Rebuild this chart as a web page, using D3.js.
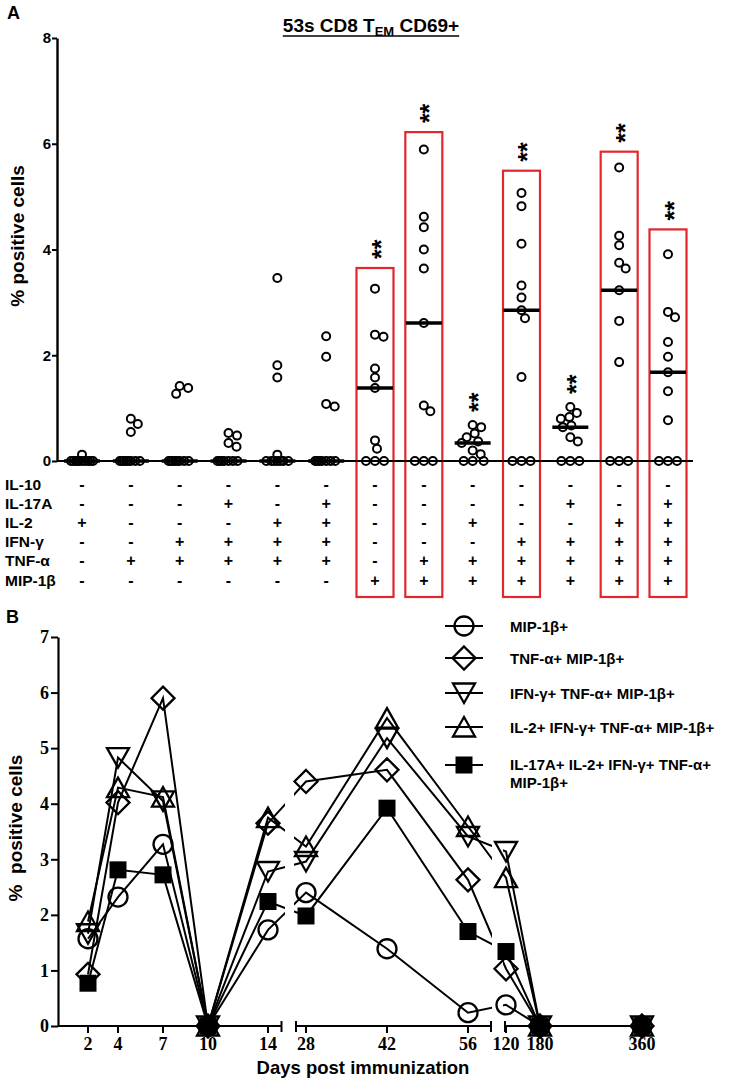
<!DOCTYPE html>
<html><head><meta charset="utf-8">
<script src="https://cdn.jsdelivr.net/npm/d3@7"></script>
<style>
body{margin:0;background:#fff}
svg{display:block}
text{font-family:"Liberation Sans",Arial,sans-serif;font-weight:bold;fill:#000}
</style>
</head><body>
<svg id="c" width="730" height="1082"></svg>
<script>
// ---------- Panel A data ----------
const groups = ["G1","G2","G3","G4","G5","G6","G7","G8","G9","G10","G11","G12","G13"];
const g1 = [0.12,0,0,0,0,0,0,0,0,0,0];
const g2 = [0.8,0.7,0.55,0,0,0,0,0,0,0,0];
const g3 = [1.42,1.38,1.27,0,0,0,0,0,0,0,0];
const g4 = [0.53,0.48,0.34,0.27,0,0,0,0,0,0,0];
const g5 = [3.46,1.81,1.58,0.12,0,0,0,0,0,0,0];
const g6 = [2.36,1.97,1.08,1.03,0,0,0,0,0,0,0];
const g7 = [3.26,2.39,2.35,1.75,1.58,1.38,0.39,0.23,0,0,0];
const g8 = [5.89,4.62,4.42,4.0,3.64,2.61,1.05,0.94,0,0,0];
const g9 = [0.68,0.64,0.52,0.45,0.37,0.34,0.2,0.13,0,0,0];
const g10 = [5.07,4.82,4.11,3.32,3.09,2.85,2.7,1.59,0,0,0];
const g11 = [1.02,0.91,0.83,0.8,0.67,0.64,0.45,0.37,0,0,0];
const g12 = [5.55,4.26,4.08,3.75,3.64,3.23,2.65,1.87,0,0,0];
const g13 = [3.91,2.82,2.72,2.25,1.97,1.68,1.32,0.77,0,0,0];
const groupValues = [g1,g2,g3,g4,g5,g6,g7,g8,g9,g10,g11,g12,g13];
const yTicksA = [0,2,4,6,8];
const boxGroups = ["G7","G8","G10","G12","G13"];
const boxTops = [3.65,6.22,5.49,5.85,4.38];
const starGroups = ["G7","G8","G9","G10","G11","G12","G13"];
const rowLabels = ["IL-10","IL-17A","IL-2","IFN-γ","TNF-α","MIP-1β"];
const rowIL10  = ["-","-","-","-","-","-","-","-","-","-","-","-","-"];
const rowIL17A = ["-","-","-","+","-","+","-","-","-","-","+","-","+"];
const rowIL2   = ["+","-","-","-","+","+","-","-","+","-","-","+","+"];
const rowIFNg  = ["-","-","+","+","+","+","-","-","-","+","+","+","+"];
const rowTNFa  = ["-","+","+","+","+","+","-","+","+","+","+","+","+"];
const rowMIP1b = ["-","-","-","-","-","-","+","+","+","+","+","+","+"];
const tableRows = [rowIL10,rowIL17A,rowIL2,rowIFNg,rowTNFa,rowMIP1b];

// ---------- Panel B data ----------
const days = [2,4,7,10,14,28,42,56,120,180,360];
const seriesNames = ["MIP-1β+","TNF-α+ MIP-1β+","IFN-γ+ TNF-α+ MIP-1β+","IL-2+ IFN-γ+ TNF-α+ MIP-1β+","IL-17A+ IL-2+ IFN-γ+ TNF-α+\nMIP-1β+"];
const sMIP   = [1.57,2.32,3.27,0,1.73,2.40,1.39,0.24,0.38,0,0];
const sTNF   = [0.93,4.02,5.90,0,3.65,4.40,4.61,2.63,1.03,0,0];
const sIFN   = [1.66,4.83,4.05,0,2.78,2.96,5.18,3.41,3.14,0,0];
const sIL2   = [1.88,4.29,4.12,0,3.75,3.23,5.54,3.59,2.67,0,0];
const sIL17  = [0.77,2.81,2.72,0,2.24,1.98,3.92,1.70,1.34,0,0];
const seriesValues = [sMIP,sTNF,sIFN,sIL2,sIL17];
const seriesShapes = ["circle","diamond","down","up","square"];
const yTicksB = [0,1,2,3,4,5,6,7];
const seg1Ticks = [2,4,7,10,14], seg2Ticks = [28,42,56], seg3Ticks = [120,180,360];

const svg = d3.select("#c");
const RED = "#e2262c";

// ================= PANEL A =================
const yA = d3.scaleLinear().domain([0,8]).range([461,38]);
const xA = d3.scalePoint().domain(groups).range([82,668]);

svg.append("text").attr("x",7).attr("y",19).style("font-size","18px").text("A");

// title
const title = svg.append("text").attr("x",371).attr("y",32).attr("text-anchor","middle").style("font-size","19px");
title.append("tspan").text("53s CD8 T");
title.append("tspan").attr("dy",4).style("font-size","13px").text("EM");
title.append("tspan").attr("dy",-4).text(" CD69+");
const tb = title.node().getBBox();
svg.append("line").attr("x1",tb.x).attr("x2",tb.x+tb.width).attr("y1",36).attr("y2",36).attr("stroke","#000").attr("stroke-width",1.6);

// y axis
const axA = svg.append("g").attr("transform","translate(57,0)")
  .call(d3.axisLeft(yA).tickValues(yTicksA).tickFormat(d3.format("d")).tickSize(5).tickSizeOuter(0).tickPadding(1));
axA.select(".domain").attr("stroke-width",2.4);
axA.selectAll(".tick line").attr("stroke-width",2);
axA.selectAll(".tick text").style("font-size","15px").style("font-family","Liberation Sans, Arial").style("font-weight","bold");

svg.append("text").attr("transform","translate(17,236) rotate(-90)").attr("text-anchor","middle")
  .attr("dominant-baseline","central").style("font-size","19px").text("% positive cells");

// red boxes
const rowY = i => 484 + i*19.2;
const boxBottom = rowY(5) + 17;
boxGroups.forEach((g,i)=>{
  svg.append("rect").attr("x",xA(g)-18.5).attr("width",37)
    .attr("y",yA(boxTops[i])).attr("height",boxBottom - yA(boxTops[i]))
    .attr("fill","none").attr("stroke",RED).attr("stroke-width",2.2);
});

// zero line
svg.append("line").attr("x1",57).attr("x2",693).attr("y1",yA(0)).attr("y2",yA(0)).attr("stroke","#000").attr("stroke-width",2);

// beeswarm
function swarm(vals, ys, minD, maxOff){
  const idx = vals.map((v,i)=>i).sort((a,b)=>vals[b]-vals[a]);
  const placed=[], off=new Array(vals.length);
  for(const i of idx){
    const y = ys(vals[i]);
    let best=null;
    for(let k=0;k<=maxOff*2 && best===null;k++){
      const cands = k===0?[0]:[k/2,-k/2];
      for(const c of cands){
        if(placed.every(p=>Math.hypot(p.x-c,p.y-y)>=minD)){best=c;break;}
      }
    }
    if(best===null){
      let bd=-1;
      for(let c=-maxOff;c<=maxOff;c+=0.5){
        const d=d3.min(placed,p=>Math.hypot(p.x-c,p.y-y));
        if(d>bd){bd=d;best=c;}
      }
    }
    off[i]=best; placed.push({x:best,y});
  }
  return off;
}

groups.forEach((g,gi)=>{
  const vals = groupValues[gi];
  const offs = swarm(vals, yA, 8.6, 11);
  const cg = svg.append("g");
  cg.selectAll("circle").data(vals).join("circle")
    .attr("cx",(d,i)=>xA(g)+offs[i]).attr("cy",d=>yA(d)).attr("r",4)
    .attr("fill","none").attr("stroke","#000").attr("stroke-width",2);
  const med = d3.median(vals);
  svg.append("line").attr("x1",xA(g)-18).attr("x2",xA(g)+18).attr("y1",yA(med)).attr("y2",yA(med))
    .attr("stroke","#000").attr("stroke-width",3.5);
});

// stars
starGroups.forEach(g=>{
  const gi = groups.indexOf(g);
  const bi = boxGroups.indexOf(g);
  const topPx = bi>=0 ? yA(boxTops[bi]) : yA(d3.max(groupValues[gi])) - 4;
  const fs = 25;
  svg.append("text").attr("transform",`translate(${xA(g)+0.58*fs},${topPx-9}) rotate(-90)`)
    .style("font-size",fs+"px").text("**");
});

// table
rowLabels.forEach((lab,ri)=>{
  svg.append("text").attr("x",5).attr("y",rowY(ri)+5.5).style("font-size","15.5px").text(lab);
  groups.forEach((g,gi)=>{
    svg.append("text").attr("x",xA(g)).attr("y",rowY(ri)+5.5).attr("text-anchor","middle")
      .style("font-size","16px").text(tableRows[ri][gi]);
  });
});

// ================= PANEL B =================
svg.append("text").attr("x",6).attr("y",623).style("font-size","18px").text("B");
const yB = d3.scaleLinear().domain([0,7]).range([1026,637]);
const s1 = d3.scaleLinear().domain([0,14.9]).range([58,281.5]);
const s2 = d3.scaleLinear().domain([28,56]).range([306,468]);
const s3 = d3.scaleLinear().domain([120,360]).range([506,642]);
const xB = d => d<=20 ? s1(d) : (d<=100 ? s2(d) : s3(d));

// y axis B
const axB = svg.append("g").attr("transform","translate(58,0)")
  .call(d3.axisLeft(yB).tickValues(yTicksB).tickFormat(d3.format("d")).tickSize(7).tickSizeOuter(0).tickPadding(2));
axB.select(".domain").attr("stroke-width",2.2);
axB.selectAll(".tick line").attr("stroke-width",2);
axB.selectAll(".tick text").style("font-family","Liberation Serif, Times New Roman, serif").style("font-size","18px").style("font-weight","bold");

svg.append("text").attr("transform","translate(15,828) rotate(-90)").attr("text-anchor","middle")
  .attr("dominant-baseline","central").style("font-size","19px").style("white-space","pre").text("%  positive cells");

// x axis segments
const segs = [[58,281.5,seg1Ticks,s1],[296,491,seg2Ticks,s2],[505,642,seg3Ticks,s3]];
segs.forEach(([a,b,ticks,sc],si)=>{
  const y0 = yB(0);
  svg.append("line").attr("x1",a).attr("x2",b).attr("y1",y0).attr("y2",y0).attr("stroke","#000").attr("stroke-width",2.2);
  ticks.forEach(t=>{
    svg.append("line").attr("x1",sc(t)).attr("x2",sc(t)).attr("y1",y0).attr("y2",y0+7).attr("stroke","#000").attr("stroke-width",2);
    svg.append("text").attr("x",sc(t)).attr("y",1050).attr("text-anchor","middle")
      .style("font-family","Liberation Serif, Times New Roman, serif").style("font-size","18px").text(t);
  });
  if(si===0 || si===1){
    svg.append("line").attr("x1",b).attr("x2",b).attr("y1",y0-5).attr("y2",y0+6).attr("stroke","#000").attr("stroke-width",2);
  }
  if(si===1 || si===2){
    svg.append("line").attr("x1",a).attr("x2",a).attr("y1",y0-5).attr("y2",y0+6).attr("stroke","#000").attr("stroke-width",2);
  }
});
svg.append("text").attr("x",363).attr("y",1074).attr("text-anchor","middle").style("font-size","18.5px").text("Days post immunization");

// clip for broken lines
const defs = svg.append("defs");
const cp = defs.append("clipPath").attr("id","brk");
[[0,285],[294,492],[503,730]].forEach(([a,b])=>cp.append("rect").attr("x",a).attr("y",600).attr("width",b-a).attr("height",482));

function marker(g,shape,x,y){
  const sw=2.3;
  if(shape==="circle") g.append("circle").attr("cx",x).attr("cy",y).attr("r",9.5).attr("fill","none").attr("stroke","#000").attr("stroke-width",sw);
  else if(shape==="diamond") g.append("path").attr("d",`M${x},${y-11.5}L${x+11.5},${y}L${x},${y+11.5}L${x-11.5},${y}Z`).attr("fill","none").attr("stroke","#000").attr("stroke-width",sw);
  else if(shape==="down") g.append("path").attr("d",`M${x-11},${y-9.5}L${x+11},${y-9.5}L${x},${y+10}Z`).attr("fill","none").attr("stroke","#000").attr("stroke-width",sw);
  else if(shape==="up") g.append("path").attr("d",`M${x-11},${y+9.5}L${x+11},${y+9.5}L${x},${y-10}Z`).attr("fill","none").attr("stroke","#000").attr("stroke-width",sw);
  else if(shape==="square") g.append("rect").attr("x",x-8.5).attr("y",y-8.5).attr("width",17).attr("height",17).attr("fill","#000");
}

const line = d3.line().x((d,i)=>xB(days[i])).y(d=>yB(d));
seriesValues.forEach((vals,si)=>{
  const g = svg.append("g");
  g.append("path").attr("d",line(vals)).attr("fill","none").attr("stroke","#000").attr("stroke-width",2).attr("clip-path","url(#brk)");
  vals.forEach((v,i)=>marker(g,seriesShapes[si],xB(days[i]),yB(v)));
});

// legend
const legY = [626,658,693,727,765];
seriesNames.forEach((name,i)=>{
  const g = svg.append("g");
  g.append("line").attr("x1",445).attr("x2",483).attr("y1",legY[i]).attr("y2",legY[i]).attr("stroke","#000").attr("stroke-width",2);
  marker(g,seriesShapes[i],464,legY[i]);
  const lines = name.split("\n");
  const t = g.append("text").attr("x",510).style("font-size","15px");
  if(lines.length===1){
    t.attr("y",legY[i]).attr("dominant-baseline","central").text(lines[0]);
  } else {
    t.attr("y",legY[i]+5).text(lines[0]);
    g.append("text").attr("x",510).attr("y",legY[i]+23).style("font-size","15px").text(lines[1]);
  }
});
</script>
</body></html>
